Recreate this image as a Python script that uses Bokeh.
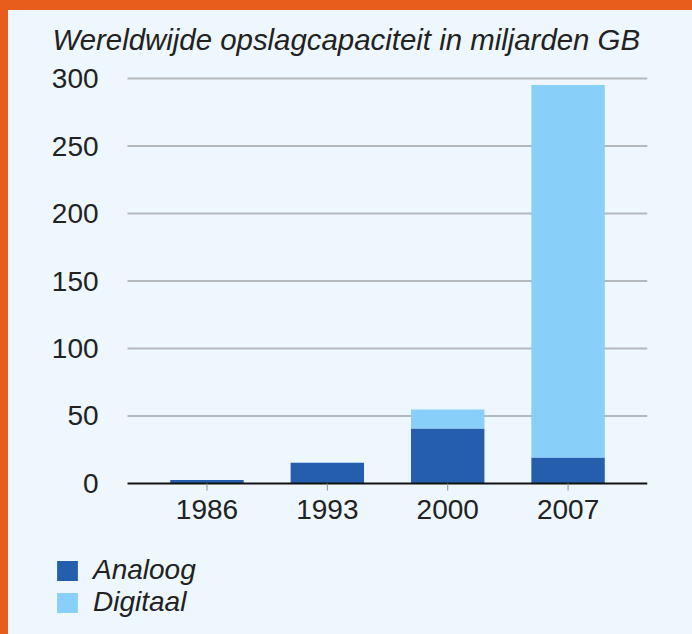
import math
from bokeh.plotting import figure
from bokeh.models import Range1d, ColumnDataSource, GlobalInlineStyleSheet
from bokeh.core.properties import value
from bokeh.embed import file_html
from bokeh.resources import INLINE

# ---- data ----
years = ["1986", "1993", "2000", "2007"]
analoog = [2.6, 15.4, 40.7, 19.3]
digitaal = [0.02, 0.2, 14.1, 276.0]
series_names = ["analoog", "digitaal"]
legend_labels = ["Analoog", "Digitaal"]
y_ticks = [0, 50, 100, 150, 200, 250, 300]
title_text = "Wereldwijde opslagcapaciteit in miljarden GB"

# ---- style ----
DARK = "#245eac"
LIGHT = "#88cffa"
BG = "#eef7fe"
ORANGE = "#e85d1c"
TEXT = "#222222"
GRID = "#b4b8bb"
FONT = "Liberation Sans"
FS = "28px"

# category slots (index positions of the categories)
xpos = list(range(len(years)))
PAD = 0.16                       # padding of the category axis, in category units
x_left = -0.5 - PAD              # start of the plotted category axis
x_right = len(years) - 0.5 + PAD # end of the plotted category axis

src = ColumnDataSource(dict(x=xpos, year=years, analoog=analoog, digitaal=digitaal))
grid_src = ColumnDataSource(dict(y=y_ticks[1:]))
ylab_src = ColumnDataSource(dict(y=y_ticks, label=[str(t) for t in y_ticks]))

xr = Range1d(-1.30, x_right)
yr = Range1d(-101.5, 350.4)

p = figure(
    x_range=xr, y_range=yr,
    width=676, height=616,
    output_backend="svg", toolbar_location=None,
    x_axis_location=None, y_axis_location=None,
    min_border_left=42, min_border_right=37, min_border_top=0, min_border_bottom=6,
    background_fill_color=BG, border_fill_color=BG,
    outline_line_color=None,
)
p.margin = (10, 0, 0, 8)
p.xgrid.visible = False
p.ygrid.visible = False

# horizontal grid lines
p.segment(x0=x_left, x1=x_right, y0="y", y1="y", source=grid_src,
          line_color=GRID, line_width=2)

# stacked bars
p.vbar_stack(series_names, x="x", width=0.61, color=[DARK, LIGHT],
             source=src, legend_label=legend_labels, line_color=None)

# x axis line at zero, ticks and labels
p.segment(x0=x_left, x1=x_right, y0=0, y1=0, line_color="#111111", line_width=2)
p.ray(x="x", y=0, length=7, length_units="screen", angle=-math.pi / 2,
      source=src, line_color="#8a8f94", line_width=1)
p.text(x="x", y=0, text="year", source=src, y_offset=17,
       text_align="center", text_baseline="top",
       text_font=value(FONT), text_font_size=value(FS), text_color=TEXT)

# y tick labels
p.text(x=x_left, y="y", text="label", source=ylab_src, x_offset=-29,
       text_align="right", text_baseline="middle",
       text_font=value(FONT), text_font_size=value(FS), text_color=TEXT)

# title (top-left corner of the drawing area)
p.text(x=[xr.start], y=[yr.end], text=[title_text], x_offset=2, y_offset=29,
       text_align="left", text_baseline="alphabetic",
       text_font=value(FONT), text_font_size=value("29.4px"),
       text_font_style="italic", text_color=TEXT)

# legend
lg = p.legend[0]
lg.location = (4, 2)
lg.orientation = "vertical"
lg.background_fill_alpha = 0
lg.border_line_color = None
lg.padding = 0
lg.margin = 0
lg.spacing = -10
lg.glyph_width = 26
lg.glyph_height = 25
lg.label_height = 20
lg.label_standoff = 13
lg.label_text_font = FONT
lg.label_text_font_size = FS
lg.label_text_font_style = "italic"
lg.label_text_color = TEXT

p.stylesheets = [GlobalInlineStyleSheet(css=(
    "html{background:"
    f"linear-gradient(to right, {ORANGE} 0px, {ORANGE} 8px, transparent 8px),"
    f"linear-gradient(to bottom, {ORANGE} 0px, {ORANGE} 10px, {BG} 10px) !important;}}"
    "body{background:transparent !important;}"
))]

open("out.html", "w").write(file_html(p, INLINE))
